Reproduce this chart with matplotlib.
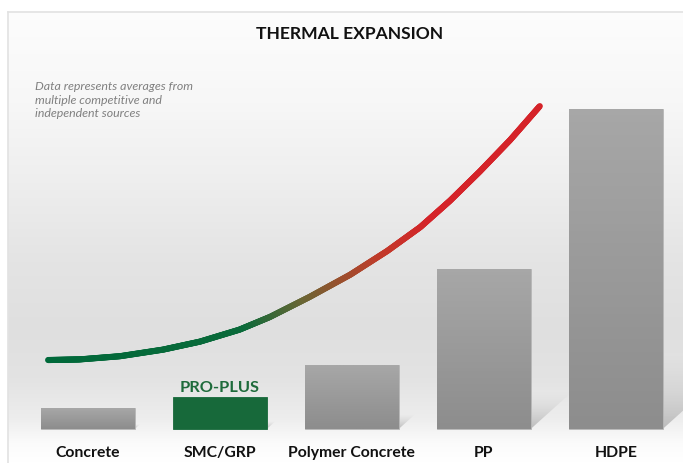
import numpy as np
import matplotlib
matplotlib.use('Agg')
import matplotlib.pyplot as plt
from matplotlib.collections import LineCollection
from matplotlib.colors import LinearSegmentedColormap, Normalize
from matplotlib.patches import Polygon

plt.rcParams['font.family'] = ['Lato', 'DejaVu Sans']

## chart data
materials = ['Concrete', 'SMC/GRP', 'Polymer Concrete', 'PP', 'HDPE']
expansion = [13, 20, 40, 100, 200]
highlight = 'SMC/GRP'
highlight_label = 'PRO-PLUS'

# hand drawn trend line: position in bar units, value
trend_x = [-0.30, -0.06, 0.245, 0.57, 0.85, 1.15, 1.38, 1.68, 1.99, 2.27, 2.52, 2.745, 2.97, 3.20, 3.425]
trend_y = [43.1, 43.5, 45.5, 49.6, 54.6, 62.1, 70, 82.5, 96.5, 111.3, 126.2, 142.7, 160.9, 180.6, 201.8]

title = 'THERMAL EXPANSION'
note = 'Data represents averages from\nmultiple competitive and\nindependent sources'

W, H = 683, 464
fig = plt.figure(figsize=(W/100, H/100), dpi=100)
fig.patch.set_facecolor('white')

# background panel with soft vertical gradient
bg = fig.add_axes([8/W, 0, 1 - 8/W, (H - 13)/H])
bg.axis('off')
py = np.linspace(13, H, 300)
stops_y = [13, 100, 180, 260, 330, 380, 420, 445, H]
stops_v = [0.99, 0.97, 0.935, 0.895, 0.875, 0.89, 0.93, 0.985, 1.0]
shade = np.interp(py, stops_y, stops_v)
bg.imshow(np.dstack([shade, shade, shade]).reshape(-1, 1, 3),
          aspect='auto', extent=[0, 1, 0, 1], interpolation='bilinear')
bg.set_xlim(0, 1)
bg.set_ylim(0, 1)
fig.add_artist(plt.Line2D([8/W, 1], [1 - 13/H, 1 - 13/H], color='#e2e2e2', lw=1.2))
fig.add_artist(plt.Line2D([8/W, 8/W], [0, 1 - 13/H], color='#e2e2e2', lw=1.2))

ax = fig.add_axes([0, 0, 1, 1])
ax.set_facecolor('none')
ax.axis('off')

x = np.arange(len(materials))
width = 0.712
bars = ax.bar(x, expansion, width=width, color='#9b9b9b', edgecolor='#b8b8b8', lw=0.6, zorder=3)

gray_grad = LinearSegmentedColormap.from_list('g', ['#8d8d8d', '#a7a7a7'])
shadow_cmap = LinearSegmentedColormap.from_list('s', [(0.70, 0.70, 0.70, 0.85), (0.80, 0.80, 0.80, 0.0)])
for xi, val, name, b in zip(x, expansion, materials, bars):
    x0, x1 = xi - width/2, xi + width/2
    # cast shadow to the right of each bar
    sh = 0.23 * val
    dx = sh * 1.6 / 0.9 / 132
    tri = Polygon([[x1, 0], [x1 + dx, sh], [x1, sh]], closed=True, facecolor='none', edgecolor='none')
    ax.add_patch(tri)
    im = ax.imshow(np.linspace(0, 1, 50)[:, None], cmap=shadow_cmap, origin='lower',
                   extent=[x1, x1 + dx, 0, sh], aspect='auto', zorder=2)
    im.set_clip_path(tri)
    if name == highlight:
        b.set_facecolor('#17693a')
        b.set_edgecolor('#17693a')
        ax.text(xi, val + 6, highlight_label, ha='center', va='center', fontsize=11.8,
                fontweight='bold', color='#1e6b3b', zorder=5)
    else:
        im = ax.imshow(np.linspace(0, 1, 50)[:, None], cmap=gray_grad, origin='lower',
                       extent=[x0, x1, 0, val], aspect='auto', zorder=3)
        im.set_clip_path(b)
    ax.text(xi, -14.4, name, ha='center', va='center', fontsize=11.3, fontweight='bold', color='#111111')

# trend curve, coloured from green to red along x
k = len(trend_x)
s = np.linspace(0, k - 1, 600)
cx = np.interp(s, np.arange(k), trend_x)
cy = np.interp(s, np.arange(k), trend_y)
pts = np.column_stack([cx, cy]).reshape(-1, 1, 2)
segs = np.concatenate([pts[:-1], pts[1:]], axis=1)
curve_cmap = LinearSegmentedColormap.from_list('c', [
    (0.0, '#00693a'), (0.40, '#0a6a3a'), (0.52, '#6a6634'), (0.60, '#9c4f2d'),
    (0.68, '#c23a2a'), (0.78, '#d52329'), (1.0, '#d52329')])
norm = Normalize(-0.3, 3.43)
lc = LineCollection(segs, colors=curve_cmap(norm((cx[:-1] + cx[1:]) / 2)), linewidths=4.4,
                    capstyle='round', joinstyle='round', zorder=4)
ax.add_collection(lc)

ax.set_xlim(-87.7/132, (W - 87.7)/132)
ax.set_ylim(-(H - 430)/1.6, 430/1.6)

fig.text(350/W, 1 - 34/H, title, ha='center', va='center', fontsize=12.6, fontweight='bold', color='#111111')
fig.text(35/W, 1 - 81.5/H, note, ha='left', va='top', fontsize=8.9, style='italic', color='#808080',
         linespacing=1.25)

fig.savefig('out.png', dpi=100)
